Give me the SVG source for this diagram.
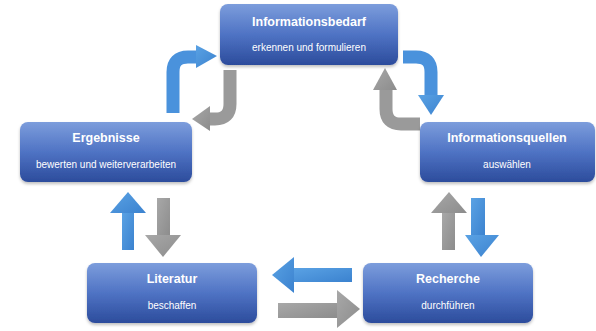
<svg xmlns="http://www.w3.org/2000/svg" width="596" height="331" viewBox="0 0 596 331">
<defs>
<linearGradient id="box" x1="0" y1="0" x2="0" y2="1">
<stop offset="0" stop-color="#7c9ddc"/>
<stop offset="0.5" stop-color="#4f73c4"/>
<stop offset="1" stop-color="#2c4c9c"/>
</linearGradient>
<linearGradient id="blue" x1="0" y1="0" x2="1" y2="1">
<stop offset="0" stop-color="#5aa2e4"/>
<stop offset="1" stop-color="#3b82cf"/>
</linearGradient>
<linearGradient id="gray" x1="0" y1="0" x2="1" y2="1">
<stop offset="0" stop-color="#a8a8a8"/>
<stop offset="1" stop-color="#8c8c8c"/>
</linearGradient>
<filter id="sh" x="-10%" y="-10%" width="120%" height="130%">
<feDropShadow dx="0" dy="2" stdDeviation="1.5" flood-color="#000" flood-opacity="0.25"/>
</filter>
</defs>
<style>
.b{fill:url(#box);filter:url(#sh)}
.t{font-family:"Liberation Sans",Arial,sans-serif;font-weight:bold;font-size:12.5px;fill:#fff;text-anchor:middle}
.s{font-family:"Liberation Sans",Arial,sans-serif;font-size:10px;fill:#fff;text-anchor:middle}
.bl{fill:url(#blue)}
.gr{fill:url(#gray)}
.bls{fill:none;stroke:#4a92dc;stroke-width:13}
.grs{fill:none;stroke:#9a9a9a;stroke-width:13}
</style>
<rect width="596" height="331" fill="#fff"/>
<g id="connectors">
<!-- top-left curved -->
<path class="bls" d="M173,113 V72 Q173,57 188,57 H197"/>
<polygon class="bl" points="196,45 217,56 196,68"/>
<path class="grs" d="M230,70 V104 Q230,119 215,119 H209"/>
<polygon class="gr" points="210,106 192,119 210,131"/>
<!-- top-right curved -->
<path class="bls" d="M403,57 H416 Q431,57 431,72 V96"/>
<polygon class="bl" points="418,95 444,95 431,115"/>
<path class="grs" d="M386,89 V109 Q386,124 401,124 H420"/>
<polygon class="gr" points="373,90 397,90 385,68"/>
<!-- Ergebnisse / Literatur -->
<rect class="bl" x="122" y="212" width="12" height="38"/>
<polygon class="bl" points="110,213 146,213 128,192"/>
<rect class="gr" x="157" y="198" width="13" height="38"/>
<polygon class="gr" points="145,235 181,235 163,257"/>
<!-- Informationsquellen / Recherche -->
<rect class="gr" x="442" y="212" width="13" height="38"/>
<polygon class="gr" points="431,213 467,213 449,192"/>
<rect class="bl" x="471" y="198" width="14" height="38"/>
<polygon class="bl" points="465,235 499,235 481,257"/>
<!-- Literatur / Recherche -->
<rect class="bl" x="293" y="268" width="59" height="14"/>
<polygon class="bl" points="294,257 294,293 272,275"/>
<rect class="gr" x="278" y="303" width="60" height="15"/>
<polygon class="gr" points="337,290 337,328 360,309"/>
</g>
<g id="informationsbedarf">
<rect class="b" x="220" y="4" width="178" height="61" rx="8"/>
<text class="t" x="309" y="26">Informationsbedarf</text>
<text class="s" x="309" y="51">erkennen und formulieren</text>
</g>
<g id="ergebnisse">
<rect class="b" x="20" y="122" width="172" height="60" rx="8"/>
<text class="t" x="106" y="142">Ergebnisse</text>
<text class="s" x="106" y="168">bewerten und weiterverarbeiten</text>
</g>
<g id="informationsquellen">
<rect class="b" x="420" y="122" width="175" height="60" rx="8"/>
<text class="t" x="507" y="142">Informationsquellen</text>
<text class="s" x="507" y="168">auswählen</text>
</g>
<g id="literatur">
<rect class="b" x="87" y="263" width="170" height="60" rx="8"/>
<text class="t" x="172" y="283">Literatur</text>
<text class="s" x="172" y="309">beschaffen</text>
</g>
<g id="recherche">
<rect class="b" x="363" y="263" width="170" height="60" rx="8"/>
<text class="t" x="448" y="283">Recherche</text>
<text class="s" x="448" y="309">durchführen</text>
</g>
</svg>
